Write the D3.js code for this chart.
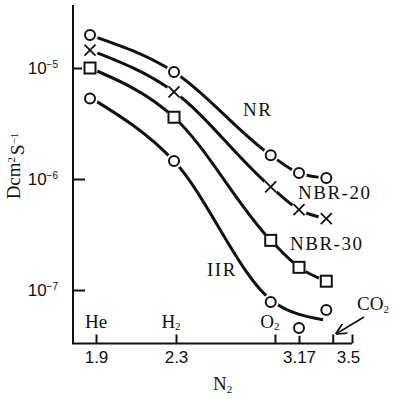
<!DOCTYPE html>
<meta charset="utf-8">
<style>
  body { margin: 0; background: white; }
  svg { background-color: white; display: block; }

  .axis path,
  .axis line {
    fill: none;
    stroke: #111;
    stroke-width: 2px;
  }
  .axis text {
    font-family: "Liberation Sans", Arial, sans-serif;
    font-size: 17px;
    fill: #111;
  }
  .lbl {
    font-family: "Liberation Serif", "Times New Roman", serif;
    font-size: 19px;
    fill: #111;
  }
  .curve {
    fill: none;
    stroke: #111;
    stroke-width: 3px;
  }
</style>

<div id="chart"></div>

<script src="https://d3js.org/d3.v7.min.js"></script>
<script>
  // gas positions on the x axis (He, H2, O2, N2, CO2)
  var gasX = [1.87, 2.29, 2.97, 3.17, 3.34];

  // diffusion coefficients, cm2/s
  var nrVals    = [1.98e-5, 9.2e-6, 1.64e-6, 1.13e-6, 1.02e-6];
  var nbr20Vals = [1.45e-5, 6.1e-6, 8.5e-7, 5.3e-7, 4.4e-7];
  var nbr30Vals = [1.0e-5, 3.6e-6, 2.8e-7, 1.6e-7, 1.2e-7];
  var iirVals   = [5.3e-6, 1.45e-6, 7.8e-8, 4.55e-8, 6.6e-8];

  // the IIR curve is drawn as a fit, not through its last two points
  var iirCurveX    = [1.88, 2.29, 2.99, 3.32];
  var iirCurveVals = [5.3e-6, 1.45e-6, 7.8e-8, 5.4e-8];

  var xTickVals = [1.9, 2.3, 3.0, 3.17, 3.38, 3.5];
  var xTickText = ["1.9", "2.3", "", "3.17", "", "3.5"];
  var yTickVals = [1e-5, 1e-6, 1e-7];
  var yTickExp  = ["\u22125", "\u22126", "\u22127"];

  var gasNames = ["He", "H", "O"];
  var gasSub   = ["", "2", "2"];
  var gasTickX = [1.9, 2.3, 3.0];

  var width = 393, height = 399;

  var x = d3.scaleLinear()
      .domain([1.9, 2.3, 3.17, 3.5])
      .range([96, 176, 299, 352]);
  var y = d3.scaleLog()
      .domain([1e-7, 1e-5])
      .range([290, 68]);

  var xMin = 1.785, yMin = 3.3e-8, yMax = 3.7e-5;

  var svg = d3.select("#chart").append("svg")
      .attr("width", width)
      .attr("height", height);

  // y axis
  var yAxis = svg.append("g")
      .attr("class", "axis y-axis")
      .attr("transform", "translate(" + x(xMin) + ",0)")
      .call(d3.axisLeft(y).tickValues(yTickVals)
        .tickSizeInner(-12).tickSizeOuter(0).tickPadding(15));
  yAxis.select(".domain").remove();
  yAxis.selectAll(".tick text").each(function(d, i) {
    var t = d3.select(this).text("10").attr("font-size", "16px");
    t.append("tspan").attr("dy", "-0.55em").attr("font-size", "10px").text(yTickExp[i]);
  });

  // x axis
  var xAxis = svg.append("g")
      .attr("class", "axis x-axis")
      .attr("transform", "translate(0," + y(yMin) + ")")
      .call(d3.axisBottom(x).tickValues(xTickVals)
        .tickSizeInner(-9).tickSizeOuter(0).tickPadding(7)
        .tickFormat(function(d, i) { return xTickText[i]; }));
  xAxis.select(".domain").remove();
  xAxis.selectAll(".tick text").attr("dx", function(d, i) { return i == 5 ? -4 : 0; });

  // axis lines
  svg.append("path")
      .attr("fill", "none").attr("stroke", "#111").attr("stroke-width", 2)
      .attr("d", "M" + x(xMin) + "," + y(yMax) + "V" + y(yMin) + "H" + x(3.5));

  // curves
  var line = d3.line()
      .x(function(d) { return x(d[0]); })
      .y(function(d) { return y(d[1]); })
      .curve(d3.curveMonotoneX);

  var series = [
    {name: "NR", vals: nrVals, mark: "circle"},
    {name: "NBR-20", vals: nbr20Vals, mark: "cross"},
    {name: "NBR-30", vals: nbr30Vals, mark: "square"},
    {name: "IIR", vals: iirVals, mark: "circle"}
  ];

  series.forEach(function(s) {
    var pts = s.name == "IIR"
      ? d3.zip(iirCurveX, iirCurveVals)
      : d3.zip(gasX, s.vals);
    svg.append("path").attr("class", "curve").attr("d", line(pts));
  });

  // markers
  series.forEach(function(s) {
    var g = svg.append("g").selectAll("g")
        .data(d3.zip(gasX, s.vals))
        .enter().append("g")
        .attr("transform", function(d) { return "translate(" + x(d[0]) + "," + y(d[1]) + ")"; });

    g.append("circle").attr("r", 8).attr("fill", "white");

    if (s.mark == "circle") {
      g.append("circle").attr("r", 5)
        .attr("fill", "white").attr("stroke", "#111").attr("stroke-width", 2);
    } else if (s.mark == "square") {
      g.append("rect").attr("x", -5.5).attr("y", -5.5)
        .attr("width", 11).attr("height", 11)
        .attr("fill", "white").attr("stroke", "#111").attr("stroke-width", 2);
    } else {
      g.append("path").attr("d", "M-5.5,-5.5L5.5,5.5M-5.5,5.5L5.5,-5.5")
        .attr("stroke", "#111").attr("stroke-width", 1.8);
    }
  });

  // series labels
  var seriesLabel = [
    {t: "NR", x: 243, y: 116},
    {t: "NBR-20", x: 298, y: 199},
    {t: "NBR-30", x: 290, y: 250},
    {t: "IIR", x: 207, y: 276}
  ];
  svg.selectAll(".slabel").data(seriesLabel).enter().append("text")
      .attr("class", "lbl slabel")
      .attr("x", function(d) { return d.x; })
      .attr("y", function(d) { return d.y; })
      .style("letter-spacing", "1.5px")
      .text(function(d) { return d.t; });

  // gas labels above the x axis
  gasNames.forEach(function(n, i) {
    var t = svg.append("text").attr("class", "lbl")
        .attr("x", x(gasTickX[i]) - (i == 0 ? 0 : 5))
        .attr("y", 328)
        .attr("text-anchor", "middle")
        .attr("font-size", "18px")
        .text(n);
    if (gasSub[i]) t.append("tspan").attr("dy", "0.2em").attr("font-size", "11px").text(gasSub[i]);
  });

  // CO2 with arrow
  var co2 = svg.append("text").attr("class", "lbl")
      .attr("x", 357).attr("y", 310).text("CO");
  co2.append("tspan").attr("dy", "0.25em").attr("font-size", "11px").text("2");

  svg.append("defs").append("marker")
      .attr("id", "arr").attr("viewBox", "0 0 10 10")
      .attr("refX", 9).attr("refY", 5)
      .attr("markerWidth", 7).attr("markerHeight", 7)
      .attr("orient", "auto")
      .append("path").attr("d", "M0,0L10,5L0,10").attr("fill", "none")
      .attr("stroke", "#111").attr("stroke-width", 1.6);
  svg.append("line")
      .attr("x1", 364).attr("y1", 317)
      .attr("x2", x(3.38) + 4).attr("y2", y(yMin) - 10)
      .attr("stroke", "#111").attr("stroke-width", 1.6)
      .attr("marker-end", "url(#arr)");

  // axis titles
  var yt = svg.append("text").attr("class", "lbl")
      .attr("transform", "translate(20,166) rotate(-90)")
      .attr("text-anchor", "middle")
      .attr("font-size", "20px")
      .text("Dcm");
  yt.append("tspan").attr("dy", "-0.5em").attr("font-size", "11px").text("2");
  yt.append("tspan").attr("dy", "0.5em").attr("dx", "2").text("S");
  yt.append("tspan").attr("dy", "-0.55em").attr("font-size", "11px").text("\u22121");

  var xt = svg.append("text").attr("class", "lbl")
      .attr("x", 213).attr("y", 390).text("N");
  xt.append("tspan").attr("dy", "0.25em").attr("font-size", "11px").text("2");
</script>
